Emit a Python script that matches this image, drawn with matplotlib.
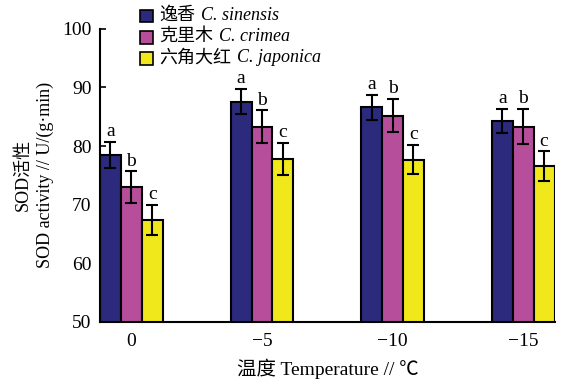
import numpy as np
import matplotlib
matplotlib.use("Agg")
import matplotlib.pyplot as plt
from matplotlib.offsetbox import (AnchoredOffsetbox, DrawingArea, HPacker,
                                  TextArea, VPacker)
from matplotlib.patches import Rectangle

plt.rcParams['font.family'] = ['Liberation Serif', 'Noto Sans CJK SC']
plt.rcParams['axes.unicode_minus'] = True

temps = ['0', '\u22125', '\u221210', '\u221215']
names_cn = ['逸香', '克里木', '六角大红']
names_latin = ['C. sinensis', 'C. crimea', 'C. japonica']
colors = ['#2b2a7c', '#b64e9c', '#f0e81a']

sod = [
    [78.5, 87.6, 86.6, 84.3],   # C. sinensis
    [73.0, 83.3, 85.2, 83.3],   # C. crimea
    [67.4, 77.8, 77.7, 76.6],   # C. japonica
]
err = [
    [2.2, 2.2, 2.2, 2.1],
    [2.7, 2.8, 2.8, 3.0],
    [2.5, 2.8, 2.5, 2.5],
]
letters = [['a', 'a', 'a', 'a'], ['b', 'b', 'b', 'b'], ['c', 'c', 'c', 'c']]

fig = plt.figure(figsize=(5.85, 3.85), dpi=100)
ax = fig.add_axes([0.171, 0.164, 0.778, 0.761])

x = np.arange(len(temps))
w = 0.16
for i in range(3):
    xs = x + (i - 1) * w
    ax.bar(xs, sod[i], w, color=colors[i], edgecolor='black', linewidth=1.5, zorder=2)
    ax.errorbar(xs, sod[i], yerr=err[i], fmt='none', ecolor='black', elinewidth=1.5,
                capsize=4, capthick=1.5, zorder=3)
    for xi, v, e, t in zip(xs, sod[i], err[i], letters[i]):
        ax.text(xi, v + e + 0.3, t, ha='center', va='bottom', fontsize=14)

ax.set_ylim(50, 100)
ax.set_xlim(-0.24, 3.245)
ax.set_yticks([50, 60, 70, 80, 90, 100])
ax.set_xticks(x)
ax.set_xticklabels(temps)
ax.tick_params(axis='y', direction='in', length=4, width=1.2, labelsize=14, pad=6)
ax.tick_params(axis='x', length=0, labelsize=14, pad=8)
for s in ['top', 'right']:
    ax.spines[s].set_visible(False)
for s in ['left', 'bottom']:
    ax.spines[s].set_linewidth(1.5)

ax.set_xlabel('温度 Temperature // ℃', fontsize=14, labelpad=6)
ax.set_ylabel('SOD活性\nSOD activity // U/(g·min)', fontsize=13, labelpad=6,
              linespacing=1.4)

# legend: coloured square, Chinese name, italic Latin name
rows = []
for c, cn, la in zip(colors, names_cn, names_latin):
    da = DrawingArea(10, 10, 0, 0)
    da.add_artist(Rectangle((0, 0), 9, 9, facecolor=c, edgecolor='black', linewidth=1.2))
    t1 = TextArea(cn, textprops=dict(fontsize=13))
    t2 = TextArea(la, textprops=dict(fontsize=13, style='italic'))
    rows.append(HPacker(children=[da, t1, t2], align='center', pad=0, sep=4))
box = VPacker(children=rows, align='left', pad=0, sep=3)
anch = AnchoredOffsetbox(loc='upper left', child=box, frameon=False,
                         bbox_to_anchor=(0.088, 1.075), bbox_transform=ax.transAxes,
                         borderpad=0, pad=0)
ax.add_artist(anch)

fig.savefig('out.png', dpi=100)
